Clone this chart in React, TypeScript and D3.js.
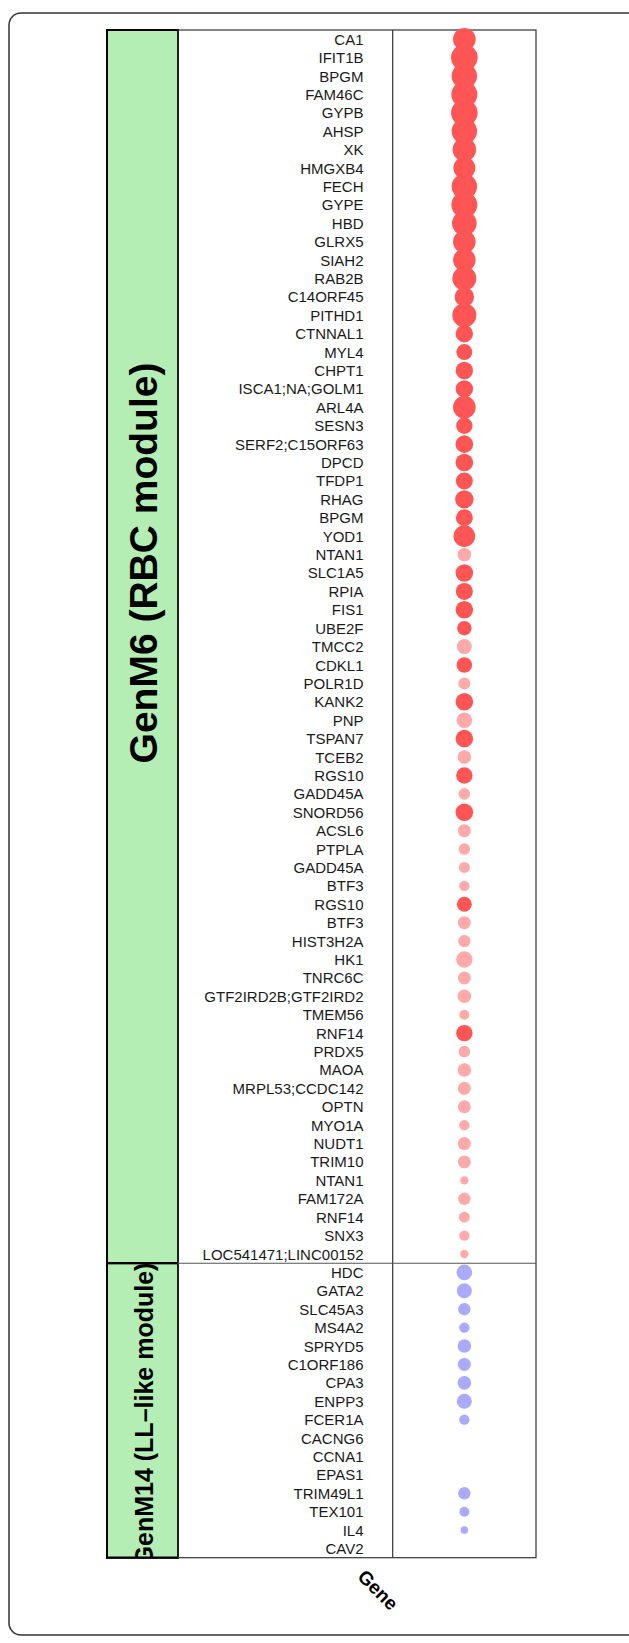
import React from "react";
import * as d3 from "d3";

const rbcGenes = [
  "CA1","IFIT1B","BPGM","FAM46C","GYPB","AHSP","XK","HMGXB4","FECH","GYPE",
  "HBD","GLRX5","SIAH2","RAB2B","C14ORF45","PITHD1","CTNNAL1","MYL4","CHPT1","ISCA1;NA;GOLM1",
  "ARL4A","SESN3","SERF2;C15ORF63","DPCD","TFDP1","RHAG","BPGM","YOD1","NTAN1","SLC1A5",
  "RPIA","FIS1","UBE2F","TMCC2","CDKL1","POLR1D","KANK2","PNP","TSPAN7","TCEB2",
  "RGS10","GADD45A","SNORD56","ACSL6","PTPLA","GADD45A","BTF3","RGS10","BTF3","HIST3H2A",
  "HK1","TNRC6C","GTF2IRD2B;GTF2IRD2","TMEM56","RNF14","PRDX5","MAOA","MRPL53;CCDC142","OPTN","MYO1A",
  "NUDT1","TRIM10","NTAN1","FAM172A","RNF14","SNX3","LOC541471;LINC00152"
];
const rbcSize = [
  11.3,13.3,12.7,13,13.3,12.7,11.7,11,12.7,13,
  12.3,11.3,11.3,12,9.7,12,8.7,8,8.7,8.7,
  11.3,8.2,8.8,8.8,8.5,9.2,8.5,10.8,6.8,8.8,
  8.5,8.8,7.2,7.5,7.8,6,8.8,7.8,8.8,6.8,
  8.2,5.8,8.8,6.5,5.8,5.5,5.2,7.5,6.5,6.2,
  8.2,6.5,6.8,5,8.2,5.8,6.8,6.5,6.5,5.2,
  6.5,6.5,4.2,6.2,5.5,5.2,4.2
];
// 1 = strong (saturated), 0 = weak (pale)
const rbcStrong = [
  1,1,1,1,1,1,1,1,1,1,
  1,1,1,1,1,1,1,1,1,1,
  1,1,1,1,1,1,1,1,0,1,
  1,1,1,0,1,0,1,0,1,0,
  1,0,1,0,0,0,0,1,0,0,
  0,0,0,0,1,0,0,0,0,0,
  0,0,0,0,0,0,0
];
const llGenes = [
  "HDC","GATA2","SLC45A3","MS4A2","SPRYD5","C1ORF186","CPA3","ENPP3","FCER1A","CACNG6",
  "CCNA1","EPAS1","TRIM49L1","TEX101","IL4","CAV2"
];
const llSize: (number | null)[] = [
  7.8,7.5,6.2,5.2,6.8,6.5,6.8,7.5,5.2,null,
  null,null,6.2,5,3.8,null
];
const moduleNames = ["GenM6 (RBC module)", "GenM14 (LL\u2013like module)"];
const xCategories = ["Gene"];

type Row = { idx: number; gene: string; size: number | null; color: string; module: number };

const rows: Row[] = [
  ...rbcGenes.map((g, i) => ({
    idx: i, gene: g, size: rbcSize[i], color: rbcStrong[i] ? "#FF5555" : "#FFAAAA", module: 0,
  })),
  ...llGenes.map((g, i) => ({
    idx: rbcGenes.length + i, gene: g, size: llSize[i], color: "#AAAAFF", module: 1,
  })),
];

export default function App() {
  const W = 629, H = 1643;
  const top = 30, bottom = 1557.7;
  const stripL = 107, stripR = 178, divX = 392.7, panelR = 536;

  const y = d3.scaleBand<number>().domain(rows.map(r => r.idx)).range([top, bottom]).padding(0);
  const x = d3.scalePoint<string>().domain(xCategories).range([divX, panelR]).padding(0.5);
  const r = d3.scaleLinear().domain([0, 14]).range([0, 14]);

  const groupBounds = moduleNames.map((_, m) => {
    const rs = rows.filter(rr => rr.module === m);
    const y0 = y(rs[0].idx)!;
    const y1 = y(rs[rs.length - 1].idx)! + y.bandwidth();
    return [y0, y1];
  });
  const labelStyle = [
    { size: 39, cy: 563 },
    { size: 25, cy: 1414 },
  ];
  const font = "'Liberation Sans', Arial, Helvetica, sans-serif";

  return (
    <svg width={W} height={H} style={{ position: "absolute", left: 0, top: 0 }}>
      <rect x={9} y={13} width={635} height={1622} rx={12} ry={12} fill="white" stroke="#333" strokeWidth={1.5} />
      <defs>
        {groupBounds.map((b, i) => (
          <clipPath id={`clip${i}`} key={i}>
            <rect x={stripL} y={b[0]} width={stripR - stripL} height={b[1] - b[0]} />
          </clipPath>
        ))}
      </defs>
      {groupBounds.map((b, i) => (
        <g key={i}>
          <rect x={stripL} y={b[0]} width={stripR - stripL} height={b[1] - b[0]} fill="#B4EEB4" stroke="#000" strokeWidth={2} />
          <g clipPath={`url(#clip${i})`}>
            <text
              transform={`translate(${(stripL + stripR) / 2 + 1},${labelStyle[i].cy}) rotate(-90)`}
              textAnchor="middle" dominantBaseline="central"
              fontFamily={font} fontWeight="bold" fontSize={labelStyle[i].size} fill="#000"
            >{moduleNames[i]}</text>
          </g>
          <rect x={stripL} y={b[0]} width={stripR - stripL} height={b[1] - b[0]} fill="none" stroke="#000" strokeWidth={2} />
        </g>
      ))}
      <rect x={stripR} y={top} width={panelR - stripR} height={bottom - top} fill="none" stroke="#333" strokeWidth={1.2} />
      <line x1={divX} x2={divX} y1={top} y2={bottom} stroke="#333" strokeWidth={1.2} />
      <line x1={stripR} x2={panelR} y1={groupBounds[0][1]} y2={groupBounds[0][1]} stroke="#555" strokeWidth={1.1} />
      {rows.map(rr => (
        <text key={`t${rr.idx}`} x={363.5} y={y(rr.idx)! + y.bandwidth() / 2} textAnchor="end"
          dominantBaseline="central" fontFamily={font} fontSize={15} fill="#1a1a1a">{rr.gene}</text>
      ))}
      {rows.filter(rr => rr.size != null).map(rr => (
        <circle key={`c${rr.idx}`} cx={x("Gene")!} cy={y(rr.idx)! + y.bandwidth() / 2} r={r(rr.size as number)} fill={rr.color} />
      ))}
      <text transform={`translate(378,1590) rotate(45)`} textAnchor="middle" dominantBaseline="central"
        fontFamily={font} fontWeight="bold" fontSize={19} fill="#000">{xCategories[0]}</text>
    </svg>
  );
}
